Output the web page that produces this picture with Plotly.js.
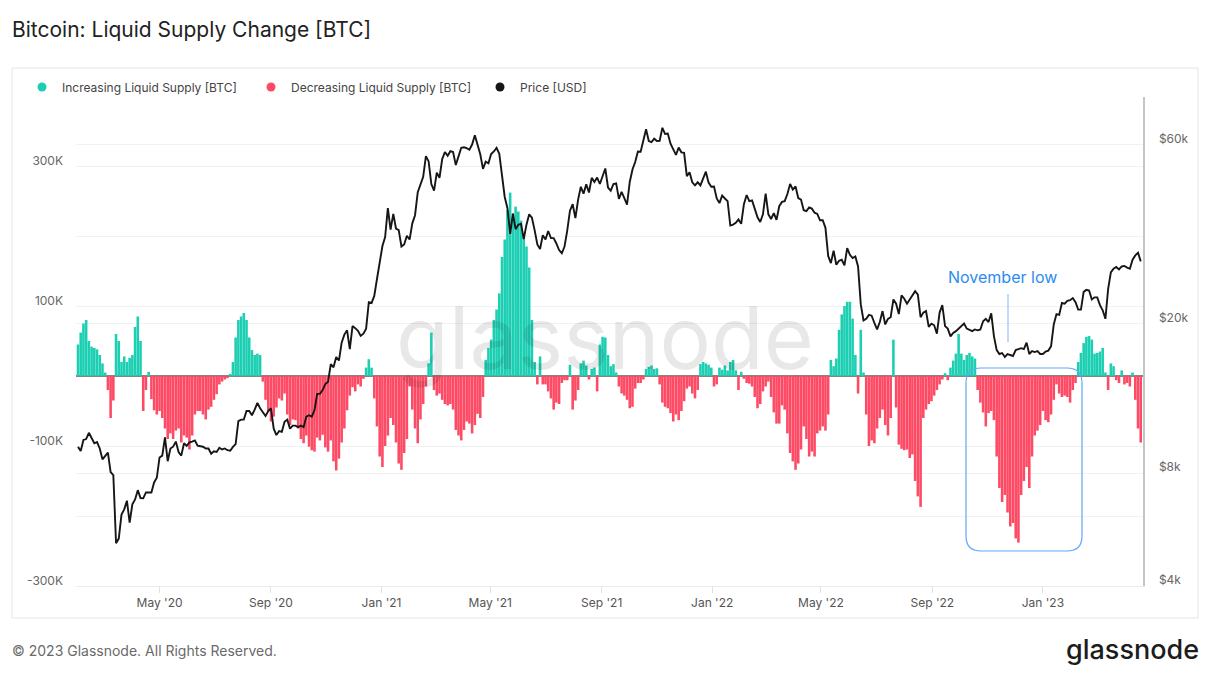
<!DOCTYPE html>
<html>
<head>
<meta charset="utf-8">
<script src="https://cdn.plot.ly/plotly-3.0.1.min.js"></script>
<style>
  html, body { margin: 0; padding: 0; background: #fff; }
  #plot { width: 1210px; height: 674px; }
</style>
</head>
<body>
<div id="plot"></div>
<script>
// one point every 3 days, starting 1 Feb 2020
var startDay = Date.UTC(2020, 1, 1);
var stepDays = 3;

// liquid supply change, thousands of BTC (positive = increasing, negative = decreasing)
var supplyChange = [
  45, 62, 75, 80, 50, 42, 40, 38, 30, 18,
  5, -20, -60, -35, 60, 50, 20, 28, 20, 26,
  30, 70, 85, 50, -50, -20, 6, -33, -49, -55,
  -50, -60, -75, -90, -82, -90, -78, -75, -95, -85,
  -88, -105, -85, -55, -50, -50, -55, -62, -48, -44,
  -34, -26, -12, -8, -5, -3, 3, 20, 55, 80,
  85, 90, 80, 55, 37, 30, 32, 30, -8, -34,
  -50, -65, -58, -45, -32, -35, -25, -55, -70, -62,
  -63, -75, -90, -96, -85, -101, -106, -108, -88, -92,
  -84, -102, -108, -92, -122, -135, -118, -95, -75, -49,
  -28, -16, -22, -12, -15, -4, 12, 24, 12, -32,
  -72, -115, -130, -100, -85, -60, -70, -95, -125, -134,
  -110, -90, -15, -48, -75, -96, -62, -40, -15, 18,
  62, -20, -28, -25, -34, -40, -42, -40, -48, -77,
  -85, -92, -77, -65, -68, -82, -70, -54, -60, -30,
  23, 40, 52, 80, 95, 118, 170, 195, 237, 262,
  225, 242, 235, 222, 200, 185, 155, 80, 20, -12,
  28, -12, -12, -22, -32, -48, -38, -40, -10, -6,
  -6, 16, -48, -35, -20, 18, 22, 15, -5, 10,
  12, -22, 45, 56, 55, 30, 14, 17, 5, -15,
  -25, -28, -34, -46, -44, -18, -10, -10, -5, 10,
  13, 15, 10, 11, -12, -38, -44, -46, -53, -65,
  -55, -63, -50, -36, -18, -15, -25, -32, -20, 17,
  20, 18, 16, 12, -15, -12, 12, 9, 15, 8,
  20, 23, 8, -20, 6, -4, -10, -11, -15, -30,
  -46, -40, -22, -15, -8, -30, -52, -68, -68, -42,
  -48, -82, -110, -122, -134, -125, -105, -72, -90, -115,
  -108, -115, -82, -78, -72, -78, -55, 23, 14, 25,
  66, 88, 100, 106, 106, 82, 30, -25, 66, 5,
  -55, -100, -92, -96, -75, -60, -48, -70, -85, -60,
  52, -45, -98, -104, -106, -105, -117, -112, -150, -172,
  -187, -60, -48, -40, -36, -28, -20, -12, -5, 4,
  -6, 12, 22, 32, 60, 32, 23, 30, 33, 28,
  25, -20, -38, -52, -72, -53, -50, -63, -115, -160,
  -180, -170, -195, -215, -210, -232, -238, -170, -150, -130,
  -160, -115, -85, -78, -70, -50, -63, -66, -55, -34,
  -12, -25, -30, -28, -30, -38, -20, -10, 20, 33,
  47, 56, 57, 52, 32, 33, 35, 40, 5, -20,
  18, 14, -6, -10, 8, -12, -10, -15, 5, -34,
  -75, -95
];

// BTC price, thousands of USD
var price = [
  9.39, 9.16, 9.8, 9.85, 10.24, 9.9, 9.6, 9.67, 9.3, 8.7,
  8.9, 9.07, 8.04, 7.9, 5.2, 5.35, 6.2, 6.4, 6.75, 5.9,
  6.6, 6.8, 7.2, 6.86, 6.85, 7.1, 7.1, 7.1, 7.55, 7.77,
  8.8, 8.9, 9.95, 8.6, 9.3, 9.4, 9.7, 9.1, 8.9, 9.6,
  9.45, 9.65, 9.7, 9.77, 9.46, 9.43, 9.4, 9.3, 9.3, 9.0,
  9.14, 9.1, 9.34, 9.24, 9.3, 9.2, 9.17, 9.39, 9.55, 11.0,
  11.1, 11.1, 11.7, 11.7, 11.4, 11.8, 12.3, 11.9, 11.65, 11.35,
  11.7, 11.9, 10.5, 10.1, 10.35, 10.3, 10.95, 11.1, 10.5, 10.7,
  10.7, 10.6, 10.7, 10.6, 11.3, 11.4, 11.3, 11.75, 13.0, 13.0,
  13.3, 13.8, 14.0, 15.6, 15.3, 16.3, 15.95, 17.8, 18.7, 19.2,
  17.1, 19.7, 19.45, 19.15, 18.55, 18.8, 19.4, 22.8, 22.7, 23.7,
  26.3, 28.9, 32.2, 34.0, 40.6, 35.6, 39.2, 35.8, 35.5, 32.1,
  32.5, 34.3, 33.5, 37.0, 38.9, 44.8, 47.1, 49.2, 55.9, 54.1,
  47.1, 45.2, 50.5, 48.9, 54.9, 57.3, 56.0, 57.6, 57.3, 52.9,
  55.8, 58.8, 59.0, 58.7, 58.1, 60.0, 63.5, 60.0, 56.5, 51.7,
  54.0, 53.5, 56.6, 57.5, 58.8, 56.7, 49.7, 43.5, 40.6, 34.7,
  39.3, 35.7, 36.7, 36.9, 33.6, 36.7, 39.1, 38.3, 35.5, 32.5,
  31.6, 34.4, 33.5, 35.3, 33.8, 33.8, 32.7, 31.4, 30.8, 32.1,
  35.4, 40.0, 41.6, 38.2, 42.8, 46.3, 44.4, 47.0, 44.7, 48.9,
  47.7, 49.0, 47.1, 49.3, 51.8, 46.1, 45.2, 47.1, 47.3, 43.0,
  44.9, 43.2, 41.5, 47.7, 51.5, 53.9, 57.5, 57.4, 61.5, 65.9,
  61.3, 60.9, 62.2, 61.3, 61.4, 66.5, 64.0, 64.2, 60.3, 58.1,
  56.3, 58.9, 57.2, 57.0, 49.4, 50.6, 47.6, 46.7, 47.6, 46.7,
  48.6, 50.8, 47.5, 46.3, 46.4, 43.1, 41.9, 43.9, 43.1, 42.4,
  36.5, 36.7, 37.1, 37.9, 36.9, 41.6, 44.0, 42.4, 42.6, 40.5,
  38.4, 37.3, 39.1, 44.4, 39.1, 38.0, 39.4, 37.8, 41.1, 42.2,
  42.4, 44.3, 47.1, 45.5, 46.4, 43.2, 42.8, 40.1, 39.9, 40.8,
  40.5, 39.5, 39.2, 37.7, 37.7, 36.0, 30.3, 29.0, 31.3, 28.7,
  29.4, 29.6, 28.6, 31.8, 30.5, 29.9, 30.2, 28.4, 22.5, 20.4,
  20.6, 21.1, 21.0, 20.1, 19.3, 20.2, 21.6, 19.9, 20.6, 20.8,
  23.2, 22.6, 21.2, 23.8, 23.3, 22.6, 23.2, 23.9, 24.4, 23.9,
  20.8, 21.4, 21.6, 19.6, 20.0, 19.8, 18.8, 21.4, 22.4, 19.7,
  19.4, 18.5, 18.9, 19.1, 19.4, 19.6, 20.0, 19.4, 19.2, 19.1,
  19.3, 19.2, 19.3, 20.3, 20.6, 20.2, 21.3, 18.5, 17.0, 16.6,
  16.7, 16.3, 16.6, 16.5, 16.4, 17.0, 17.1, 17.2, 17.1, 17.8,
  16.6, 16.9, 16.8, 16.9, 16.6, 16.6, 16.85, 16.95, 17.4, 19.9,
  21.2, 21.1, 22.7, 22.6, 23.0, 23.1, 23.4, 22.8, 21.8, 21.8,
  24.3, 24.6, 24.5, 23.2, 23.5, 23.5, 22.4, 21.7, 20.6, 24.7,
  27.4, 28.0, 28.3, 27.9, 28.4, 28.5, 28.2, 28.0, 29.6, 30.4,
  30.9, 29.3
];

var leftTickVals = [-300, -200, -100, 0, 100, 200, 300, 400];
var leftTickText = ['-300K', '', '-100K', '', '100K', '', '300K', ''];
var priceTickVals = [4, 8, 20, 60];
var priceTickText = ['$4k', '$8k', '$20k', '$60k'];

var seriesNames = ['Increasing Liquid Supply [BTC]', 'Decreasing Liquid Supply [BTC]', 'Price [USD]'];
var seriesColors = ['#1ccfb2', '#fd4a65', '#161616'];

var dates = supplyChange.map(function (_, i) {
  return new Date(startDay + i * stepDays * 86400000).toISOString().slice(0, 10);
});

// pixel helpers for decorations (plot area 76..1143 x 97..586)
var W = 1210, H = 674;
var M = {l: 76, r: 67, t: 97, b: 88};
var PW = W - M.l - M.r, PH = H - M.t - M.b;
function px2x(p) { return (p - M.l) / PW; }
function px2y(p) { return (H - M.b - p) / PH; }

var font = 'Inter, "Open Sans", sans-serif';

var incTrace = {
  x: dates,
  y: supplyChange.map(function (v) { return v > 0 ? v : null; }),
  type: 'bar',
  marker: {color: seriesColors[0], line: {width: 0}},
  showlegend: false,
  hoverinfo: 'skip'
};

var decTrace = {
  x: dates,
  y: supplyChange.map(function (v) { return v < 0 ? v : null; }),
  type: 'bar',
  marker: {color: seriesColors[1], line: {width: 0}},
  showlegend: false,
  hoverinfo: 'skip'
};

var priceTrace = {
  x: dates,
  y: price,
  yaxis: 'y2',
  type: 'scatter',
  mode: 'lines',
  line: {color: seriesColors[2], width: 1.9},
  showlegend: false,
  hoverinfo: 'skip'
};

// legend entries with round markers
var legendTraces = seriesNames.map(function (name, i) {
  return {
    x: [null], y: [null], type: 'scatter', mode: 'markers', name: name,
    marker: {color: seriesColors[i], size: 9, symbol: 'circle'}
  };
});

var bx0 = px2x(966), bx1 = px2x(1082), by0 = px2y(551), by1 = px2y(368);
var rx = 15 / PW, ry = 15 / PH;
var boxPath = 'M' + (bx0 + rx) + ',' + by1 +
  ' L' + (bx1 - rx) + ',' + by1 + ' Q' + bx1 + ',' + by1 + ' ' + bx1 + ',' + (by1 - ry) +
  ' L' + bx1 + ',' + (by0 + ry) + ' Q' + bx1 + ',' + by0 + ' ' + (bx1 - rx) + ',' + by0 +
  ' L' + (bx0 + rx) + ',' + by0 + ' Q' + bx0 + ',' + by0 + ' ' + bx0 + ',' + (by0 + ry) +
  ' L' + bx0 + ',' + (by1 - ry) + ' Q' + bx0 + ',' + by1 + ' ' + (bx0 + rx) + ',' + by1 + ' Z';

var layout = {
  width: W,
  height: H,
  margin: M,
  paper_bgcolor: '#fff',
  plot_bgcolor: '#fff',
  font: {family: font, size: 12, color: '#666'},
  barmode: 'overlay',
  bargap: 0.05,
  title: {
    text: 'Bitcoin: Liquid Supply Change [BTC]',
    xref: 'container', x: 12 / W, xanchor: 'left',
    yref: 'container', y: 1 - 30 / H, yanchor: 'middle',
    font: {family: font, size: 21, color: '#222'}
  },
  legend: {
    orientation: 'h',
    x: px2x(22), xanchor: 'left',
    y: px2y(87), yanchor: 'middle',
    entrywidth: 184, entrywidthmode: 'pixels',
    font: {family: font, size: 12, color: '#444'},
    bgcolor: 'rgba(0,0,0,0)'
  },
  xaxis: {
    type: 'date',
    range: ['2020-01-29 19:00', '2023-04-21 12:00'],
    tick0: '2020-01-01',
    dtick: 'M4',
    tickformat: "%b '%y",
    ticks: 'outside',
    ticklen: 6,
    tickcolor: '#e2e2e2',
    showgrid: false,
    showline: true,
    linecolor: '#ececec',
    zeroline: false,
    tickfont: {size: 12, color: '#555'}
  },
  yaxis: {
    range: [-300, 398.6],
    tickvals: leftTickVals,
    ticktext: leftTickText,
    showgrid: true,
    gridcolor: '#f1f1f1',
    zeroline: true,
    zerolinecolor: '#858585',
    zerolinewidth: 2,
    ticklabelstandoff: 12,
    ticklabelshift: -5,
    tickfont: {size: 12, color: '#666'}
  },
  yaxis2: {
    type: 'log',
    overlaying: 'y',
    side: 'right',
    range: [Math.log10(4), 1.9048],
    tickvals: priceTickVals,
    ticktext: priceTickText,
    showgrid: true,
    gridcolor: '#f1f1f1',
    showline: true,
    linecolor: '#c4c4c4',
    linewidth: 1.5,
    zeroline: false,
    ticklabelstandoff: 12,
    ticklabelshift: -6,
    tickfont: {size: 12, color: '#666'}
  },
  shapes: [
    {type: 'rect', xref: 'paper', yref: 'paper', layer: 'below',
     x0: px2x(12), x1: px2x(1198), y0: px2y(618), y1: px2y(68),
     line: {color: '#e4e4e4', width: 1}},
    {type: 'line', xref: 'paper', yref: 'paper',
     x0: px2x(1008), x1: px2x(1008), y0: px2y(342), y1: px2y(294),
     line: {color: '#7cb9f4', width: 1}},
    {type: 'path', xref: 'paper', yref: 'paper', path: boxPath,
     line: {color: '#5eaaf3', width: 1.2}}
  ],
  annotations: [
    {text: 'glassnode', xref: 'paper', yref: 'paper', x: px2x(605), y: px2y(338),
     xanchor: 'center', yanchor: 'middle', showarrow: false,
     font: {family: font, size: 86, color: 'rgba(0,0,0,0.09)'}},
    {text: 'November low', xref: 'paper', yref: 'paper', x: px2x(1002), y: px2y(277),
     xanchor: 'center', yanchor: 'middle', showarrow: false,
     font: {family: font, size: 16, color: '#2a8cf0'}},
    {text: '© 2023 Glassnode. All Rights Reserved.', xref: 'paper', yref: 'paper',
     x: px2x(10), y: px2y(650), xanchor: 'left', yanchor: 'middle', showarrow: false,
     font: {family: font, size: 14, color: '#6a6a6a'}},
    {text: 'glassnode', xref: 'paper', yref: 'paper',
     x: px2x(1201), y: px2y(649), xanchor: 'right', yanchor: 'middle', showarrow: false,
     font: {family: font, size: 27, color: '#1c1c1c', weight: 500}}
  ]
};

var traceData = [incTrace, decTrace, priceTrace].concat(legendTraces);

Plotly.newPlot('plot', traceData, layout, {staticPlot: true, displayModeBar: false});
</script>
</body>
</html>
